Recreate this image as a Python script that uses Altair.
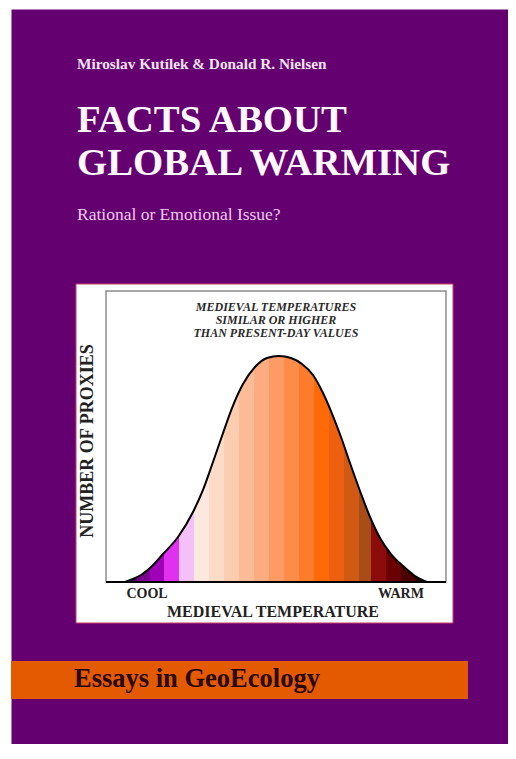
import altair as alt
import pandas as pd

# ---- cover texts ----
AUTHORS = "Miroslav Kutílek & Donald R. Nielsen"
TITLE = ["FACTS ABOUT", "GLOBAL WARMING"]
SUBTITLE = "Rational or Emotional Issue?"
NOTE = ["MEDIEVAL TEMPERATURES", "SIMILAR OR HIGHER", "THAN PRESENT-DAY VALUES"]
Y_TITLE = "NUMBER  OF  PROXIES"
X_TITLE = "MEDIEVAL  TEMPERATURE"
X_ENDS = ["COOL", "WARM"]
SERIES = "Essays in GeoEcology"

# ---- bell curve (arbitrary units 0-100 on both axes) ----
TEMP = [5.59, 7.94, 10.29, 12.94, 16.76, 21.18, 25.59, 28.53, 31.47, 34.12,
        37.06, 40.29, 43.82, 47.35, 50.88, 54.41, 57.65, 60.88, 63.82, 66.76,
        69.12, 71.76, 74.71, 77.65, 80.59, 83.82, 87.35, 90.88, 94.41]
PROXIES = [0, 1.03, 2.41, 4.81, 9.62, 15.46, 24.05, 31.62, 41.24, 50.17,
           59.79, 68.04, 73.88, 76.98, 77.66, 76.98, 74.91, 71.13, 64.95, 57.04,
           49.83, 40.89, 31.27, 22.34, 15.12, 9.62, 5.50, 2.06, 0]

# colour bands along the temperature axis (edges in the same units)
BAND_EDGES = [5.59, 9.1, 12.9, 17.1, 21.5, 25.9, 30.3, 34.7, 39.1, 43.5, 47.9,
              52.4, 56.8, 61.2, 65.6, 70.0, 74.4, 77.9, 82.4, 86.8, 91.2, 94.41]
BAND_COLORS = ["#4a0060", "#7a0090", "#a000b8", "#e030f0", "#f4c0f8",
               "#fde8e0", "#fcdcc8", "#fccdb0", "#fcbc98", "#fcac80",
               "#fc9c64", "#fc8c48", "#fc7c2c", "#ff6a08", "#ec6010",
               "#d05a14", "#a84c18", "#8c0c0c", "#6a0000", "#4a0000",
               "#2a0000"]

PURPLE = "#650070"
SERIF = "Liberation Serif"

curve = pd.DataFrame({"temp": TEMP, "proxies": PROXIES})
one = alt.Data(values=[{"k": 0}])

xs = alt.Scale(domain=[0, 100], range=[95, 435], nice=False, zero=False)
ys = alt.Scale(domain=[0, 100], range=[573, 282], nice=False, zero=False)

lo, hi = min(TEMP), max(TEMP)
stops = []
for i, c in enumerate(BAND_COLORS):
    stops.append(alt.GradientStop(color=c, offset=(BAND_EDGES[i] - lo) / (hi - lo)))
    stops.append(alt.GradientStop(color=c, offset=(BAND_EDGES[i + 1] - lo) / (hi - lo)))
grad = alt.Gradient(gradient="linear", stops=stops, x1=0, x2=1, y1=0, y2=0)

panel = alt.Chart(one).mark_rect(fill="white", stroke="#c83c64", strokeWidth=1).encode(
    x=alt.value(65), x2=alt.value(442), y=alt.value(275), y2=alt.value(614))

frame = alt.Chart(one).mark_rect(fill="transparent", stroke="#8a8a8a", strokeWidth=1.5).encode(
    x=alt.datum(0, scale=xs, axis=None), x2=alt.datum(100),
    y=alt.datum(0, scale=ys, axis=None), y2=alt.datum(100))

area = alt.Chart(curve).mark_area(interpolate="monotone", color=grad).encode(
    x=alt.X("temp:Q", scale=xs, axis=None),
    y=alt.Y("proxies:Q", scale=ys, axis=None))

line = alt.Chart(curve).mark_line(interpolate="monotone", color="black", strokeWidth=2).encode(
    x=alt.X("temp:Q", scale=xs, axis=None),
    y=alt.Y("proxies:Q", scale=ys, axis=None))

base = alt.Chart(one).mark_rule(color="black", strokeWidth=2).encode(
    x=alt.datum(0, scale=xs, axis=None), x2=alt.datum(100),
    y=alt.datum(0, scale=ys, axis=None))


def txt(text, x, y, size, color, weight="bold", style="normal", align="left", angle=0, baseline="alphabetic", lh=None):
    kw = dict(text=text, font=SERIF, fontSize=size, fontWeight=weight, fontStyle=style,
              color=color, align=align, baseline=baseline, angle=angle)
    if lh:
        kw["lineHeight"] = lh
    return alt.Chart(one).mark_text(**kw).encode(x=alt.value(x), y=alt.value(y))


texts = [
    txt(AUTHORS, 66, 60, 15.3, "#f3e3f3"),
    txt(TITLE[0], 66, 123, 38.8, "#fff8ff"),
    txt(TITLE[1], 66, 166, 38.8, "#fff8ff"),
    txt(SUBTITLE, 66, 211, 17.5, "#f0c8f0", weight="normal"),
    txt(NOTE, 265, 302, 12, "#2a2a2a", style="italic", align="center", lh=13),
    txt(Y_TITLE, 77, 432, 18, "#222222", align="center", angle=270, baseline="middle"),
    txt(X_ENDS[0], 136, 589, 14, "#222222", align="center"),
    txt(X_ENDS[1], 390, 589, 14, "#222222", align="center"),
    txt(X_TITLE, 262, 608, 16, "#222222", align="center"),
]

banner = alt.Chart(one).mark_rect(fill="#e45a00").encode(
    x=alt.value(0), x2=alt.value(457), y=alt.value(652), y2=alt.value(690))
banner_text = txt(SERIES, 63, 678, 26.5, "#2a0808")

chart = alt.layer(panel, frame, area, line, base, *texts, banner, banner_text).properties(
    width=497, height=735,
    background="white",
    padding={"left": 3, "top": 1, "right": 0, "bottom": 0},
    autosize=alt.AutoSizeParams(type="none"),
).configure_view(fill=PURPLE, stroke="transparent")

chart.save("out.html", embed_options={"renderer": "svg", "actions": False})
